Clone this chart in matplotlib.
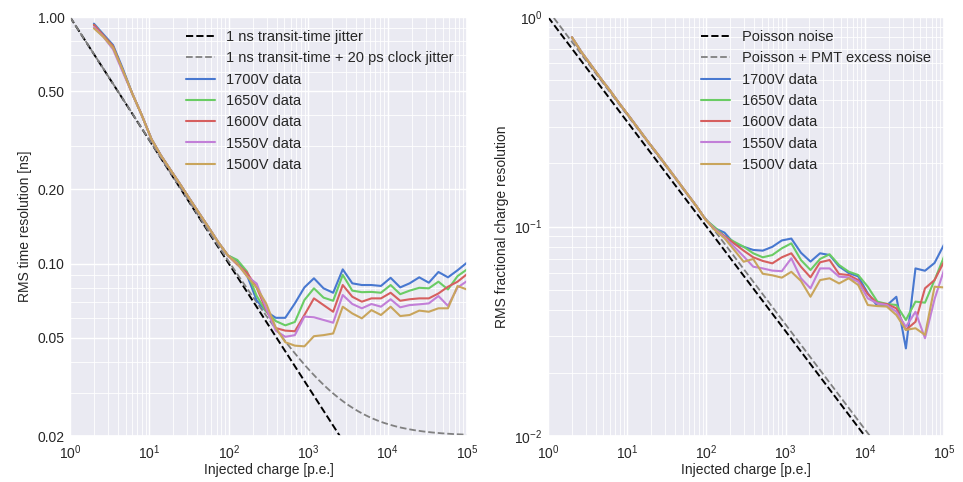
import numpy as np
import matplotlib
matplotlib.use("Agg")
import matplotlib.pyplot as plt
import matplotlib.ticker as mticker
import seaborn as sns

# DATA
charge = [2.0, 2.64, 3.48, 4.60, 6.07, 8.01, 10.6, 13.9, 18.4, 24.3,
          32.1, 42.3, 55.8, 73.7, 97.3, 128, 169, 224, 295, 390,
          514, 679, 895, 1180, 1560, 2060, 2720, 3590, 4730, 6250,
          8240, 10900, 14400, 18900, 25000, 33000, 43600, 57500, 75900, 100000]

voltages = ["1700V", "1650V", "1600V", "1550V", "1500V"]

# RMS time resolution [ns]
time_1700 = [0.94, 0.85, 0.77, 0.62, 0.49, 0.40, 0.32, 0.275, 0.24, 0.21,
             0.183, 0.160, 0.140, 0.122, 0.108, 0.1025, 0.090, 0.071, 0.064, 0.0603,
             0.0603, 0.069, 0.0801, 0.0872, 0.0794, 0.0762, 0.0948, 0.0832, 0.0819, 0.0819,
             0.0812, 0.0876, 0.0801, 0.0832, 0.0880, 0.0837, 0.0925, 0.0880, 0.0940, 0.1010]
time_1650 = [0.93, 0.84, 0.76, 0.61, 0.49, 0.40, 0.32, 0.275, 0.24, 0.21,
             0.183, 0.160, 0.140, 0.122, 0.108, 0.1035, 0.093, 0.074, 0.064, 0.0585,
             0.0562, 0.058, 0.0712, 0.0794, 0.0728, 0.0707, 0.0900, 0.0777, 0.0766, 0.0768,
             0.0762, 0.0819, 0.0752, 0.0777, 0.0798, 0.0794, 0.0845, 0.0786, 0.0890, 0.0948]
time_1600 = [0.93, 0.84, 0.76, 0.61, 0.49, 0.40, 0.32, 0.275, 0.24, 0.21,
             0.183, 0.160, 0.140, 0.122, 0.108, 0.099, 0.092, 0.080, 0.065, 0.0548,
             0.0535, 0.0532, 0.0619, 0.0723, 0.0679, 0.0638, 0.0819, 0.0734, 0.0701, 0.0723,
             0.0723, 0.0762, 0.0707, 0.0717, 0.0723, 0.0723, 0.0757, 0.0806, 0.0845, 0.0907]
time_1550 = [0.91, 0.83, 0.74, 0.60, 0.49, 0.40, 0.32, 0.275, 0.24, 0.21,
             0.183, 0.160, 0.140, 0.122, 0.108, 0.100, 0.089, 0.083, 0.066, 0.0535,
             0.0505, 0.0513, 0.0610, 0.0606, 0.0591, 0.0576, 0.0746, 0.0686, 0.0659, 0.0686,
             0.0669, 0.0717, 0.0665, 0.0679, 0.0684, 0.0690, 0.0739, 0.0674, 0.0800, 0.0850]
time_1500 = [0.90, 0.83, 0.75, 0.61, 0.49, 0.40, 0.32, 0.275, 0.24, 0.21,
             0.183, 0.160, 0.140, 0.122, 0.108, 0.100, 0.089, 0.080, 0.069, 0.055,
             0.048, 0.0465, 0.0462, 0.0508, 0.0513, 0.0521, 0.0669, 0.0628, 0.0600, 0.0648,
             0.0619, 0.0669, 0.0613, 0.0619, 0.0645, 0.0638, 0.0659, 0.0659, 0.0811, 0.0785]

# RMS fractional charge resolution
charge_1700 = [0.80, 0.68, 0.59, 0.51, 0.445, 0.385, 0.335, 0.292, 0.253, 0.221,
               0.192, 0.167, 0.145, 0.126, 0.108, 0.098, 0.0935, 0.083, 0.080, 0.0773,
               0.0767, 0.080, 0.0858, 0.0876, 0.075, 0.068, 0.0745, 0.0731, 0.0645, 0.060,
               0.0578, 0.048, 0.0418, 0.042, 0.0462, 0.0262, 0.0631, 0.0615, 0.067, 0.082]
charge_1650 = [0.80, 0.68, 0.59, 0.51, 0.445, 0.385, 0.335, 0.292, 0.253, 0.221,
               0.192, 0.167, 0.145, 0.126, 0.108, 0.099, 0.090, 0.0846, 0.0801, 0.0745,
               0.0713, 0.0731, 0.0787, 0.0831, 0.0692, 0.0620, 0.070, 0.0737, 0.0655, 0.0609,
               0.0587, 0.0516, 0.0438, 0.0427, 0.0422, 0.0358, 0.0438, 0.0433, 0.0555, 0.0718]
charge_1600 = [0.80, 0.68, 0.59, 0.51, 0.445, 0.385, 0.335, 0.292, 0.253, 0.221,
               0.192, 0.167, 0.145, 0.126, 0.108, 0.097, 0.090, 0.083, 0.0767, 0.0713,
               0.0685, 0.0667, 0.0713, 0.0745, 0.0643, 0.0572, 0.0675, 0.0692, 0.0593, 0.0587,
               0.0555, 0.0476, 0.0430, 0.0427, 0.0407, 0.0321, 0.0351, 0.0507, 0.0555, 0.0679]
charge_1550 = [0.80, 0.68, 0.59, 0.51, 0.445, 0.385, 0.335, 0.292, 0.253, 0.221,
               0.192, 0.167, 0.145, 0.126, 0.108, 0.097, 0.089, 0.080, 0.072, 0.0643,
               0.0631, 0.0616, 0.0612, 0.0705, 0.0566, 0.0507, 0.0631, 0.0631, 0.0576, 0.0572,
               0.0545, 0.0454, 0.0430, 0.0422, 0.0392, 0.0332, 0.0392, 0.0293, 0.045, 0.0620]
charge_1500 = [0.80, 0.68, 0.59, 0.51, 0.445, 0.385, 0.335, 0.292, 0.253, 0.221,
               0.192, 0.167, 0.145, 0.126, 0.108, 0.096, 0.088, 0.0773, 0.0679, 0.0700,
               0.0595, 0.0585, 0.0570, 0.0608, 0.055, 0.0462, 0.0555, 0.0566, 0.0535, 0.0566,
               0.0526, 0.0422, 0.0417, 0.0415, 0.0378, 0.0321, 0.0327, 0.0304, 0.0516, 0.0512]

time_series = [time_1700, time_1650, time_1600, time_1550, time_1500]
charge_series = [charge_1700, charge_1650, charge_1600, charge_1550, charge_1500]
colors = ["#4878D0", "#6ACC64", "#D65F5F", "#C27FD8", "#C9A55C"]

# MODEL PARAMETERS
tt_jitter = 1.0      # ns
clock_jitter = 0.02  # ns
excess_noise = 1.16  # PMT excess noise factor

n_model = np.logspace(0, 5, 400)

# STYLE
sns.set_theme(style="darkgrid")
plt.rcParams["font.family"] = ["Liberation Sans", "DejaVu Sans"]

fig = plt.figure(figsize=(9.63, 4.82), dpi=100)
ax1 = fig.add_axes([0.0727, 0.0954, 0.4123, 0.8693])
ax2 = fig.add_axes([0.5691, 0.0954, 0.4112, 0.8693])

# TIME RESOLUTION
ax1.plot(n_model, tt_jitter / np.sqrt(n_model), color="black", linestyle="--",
         linewidth=1.4, label="1 ns transit-time jitter")
ax1.plot(n_model, np.sqrt(tt_jitter**2 / n_model + clock_jitter**2), color="grey",
         linestyle="--", linewidth=1.3, label="1 ns transit-time + 20 ps clock jitter")
for v, ys, c in zip(voltages, time_series, colors):
    ax1.plot(charge, ys, color=c, linewidth=1.5, label=f"{v} data")

ax1.set_xscale("log")
ax1.set_yscale("log")
ax1.set_xlim(1, 1e5)
ax1.set_ylim(0.02, 1.0)
ax1.yaxis.set_major_locator(mticker.FixedLocator([0.02, 0.05, 0.1, 0.2, 0.5, 1.0]))
ax1.yaxis.set_major_formatter(mticker.FormatStrFormatter("%.2f"))
ax1.yaxis.set_minor_locator(mticker.LogLocator(base=10, subs=np.arange(2, 10)))
ax1.yaxis.set_minor_formatter(mticker.NullFormatter())
ax1.set_xlabel("Injected charge [p.e.]", fontsize=10, labelpad=1)
ax1.set_ylabel("RMS time resolution [ns]", fontsize=10)

# CHARGE RESOLUTION
ax2.plot(n_model, 1 / np.sqrt(n_model), color="black", linestyle="--",
         linewidth=1.4, label="Poisson noise")
ax2.plot(n_model, np.sqrt(excess_noise / n_model), color="grey", linestyle="--",
         linewidth=1.3, label="Poisson + PMT excess noise")
for v, ys, c in zip(voltages, charge_series, colors):
    ax2.plot(charge, ys, color=c, linewidth=1.5, label=f"{v} data")

ax2.set_xscale("log")
ax2.set_yscale("log")
ax2.set_xlim(1, 1e5)
ax2.set_ylim(0.01, 1.0)
ax2.set_xlabel("Injected charge [p.e.]", fontsize=10, labelpad=1)
ax2.set_ylabel("RMS fractional charge resolution", fontsize=10)

for ax in (ax1, ax2):
    ax.xaxis.set_major_locator(mticker.LogLocator(base=10, numticks=10))
    ax.xaxis.set_minor_locator(mticker.LogLocator(base=10, subs=np.arange(2, 10), numticks=20))
    ax.xaxis.set_minor_formatter(mticker.NullFormatter())
    if ax is ax2:
        ax.yaxis.set_minor_locator(mticker.LogLocator(base=10, subs=np.arange(2, 10), numticks=20))
        ax.yaxis.set_minor_formatter(mticker.NullFormatter())
    ax.grid(which="major", color="white", linewidth=1.0)
    ax.grid(which="minor", color="white", linewidth=0.6)
    ax.tick_params(which="both", labelsize=10, length=0)
    ax.tick_params(axis="x", pad=5)
    ax.tick_params(axis="y", pad=4)
    ax.legend(loc="upper right", frameon=False, fontsize=10.5)

fig.savefig("out.png", dpi=100)
